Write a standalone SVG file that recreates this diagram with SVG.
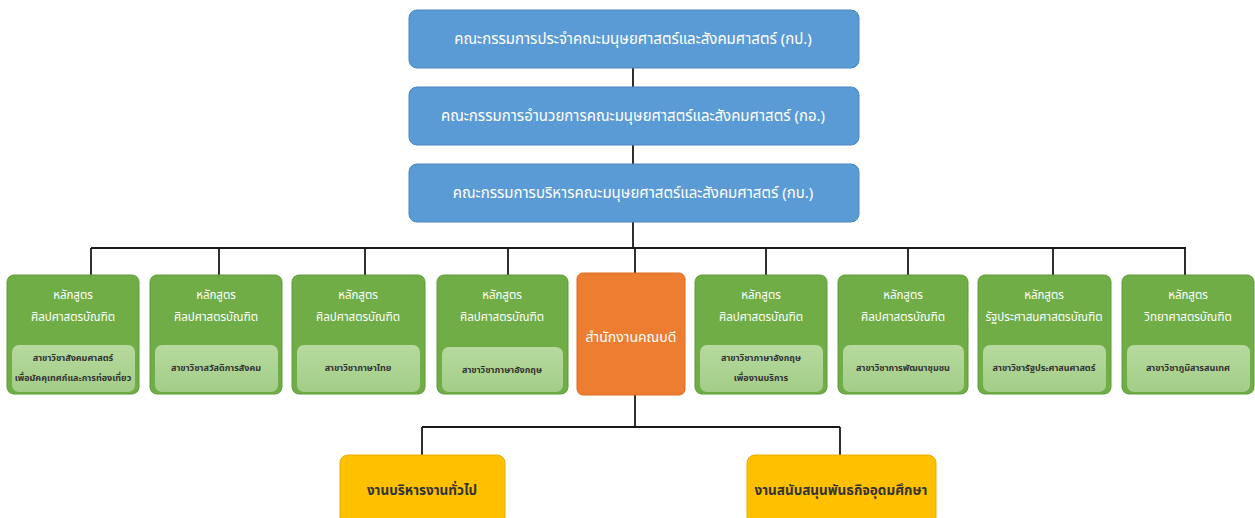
<svg xmlns="http://www.w3.org/2000/svg" width="1255" height="518" viewBox="0 0 1255 518">
<style>
text{font-family:"Noto Sans Thai","Leelawadee UI",Tahoma,"DejaVu Sans","Noto Sans",sans-serif;text-anchor:middle;dominant-baseline:central}
.blue{fill:#5B9BD5;stroke:#4A86BE;stroke-width:1}
.green{fill:#70AD47;stroke:#5E9A3A;stroke-width:1}
.inner{fill:url(#ig)}
.orange{fill:#ED7D31;stroke:#D96C22;stroke-width:1}
.yellow{fill:#FFC000;stroke:#E5AC00;stroke-width:1}
.tw{fill:#fff;font-size:15px}
.tg{fill:#fff;font-size:11.5px}
.ti{fill:#333;font-size:9px;font-weight:bold}
.ty{fill:#333;font-size:13.5px;font-weight:bold}
.conn{stroke:#1a1a1a;stroke-width:1.8;fill:none}
</style>
<defs>
<linearGradient id="ig" x1="0" y1="0" x2="0" y2="1">
<stop offset="0" stop-color="#B7DA9F"/>
<stop offset="1" stop-color="#A3CD87"/>
</linearGradient>
</defs>
<rect width="1255" height="518" fill="#fff"/>
<g id="connectors">
<path class="conn" d="M633 68V87M633 145V164M633 222V248M91 248H1186M91 248V275M219 248V275M365 248V275M508 248V275M635 248V273M766 248V275M908 248V275M1053 248V275M1185 248V275"/>
<path class="conn" d="M635 395V427M422 427H840M422 427V455M840 427V455"/>
</g>
<g id="n-kp"><rect class="blue" x="409" y="10" width="450" height="58" rx="8"/><text class="tw" x="633" y="39">คณะกรรมการประจำคณะมนุษยศาสตร์และสังคมศาสตร์ (กป.)</text></g>
<g id="n-ko"><rect class="blue" x="409" y="87" width="450" height="58" rx="8"/><text class="tw" x="633" y="116">คณะกรรมการอำนวยการคณะมนุษยศาสตร์และสังคมศาสตร์ (กอ.)</text></g>
<g id="n-kb"><rect class="blue" x="409" y="164" width="450" height="58" rx="8"/><text class="tw" x="633" y="193">คณะกรรมการบริหารคณะมนุษยศาสตร์และสังคมศาสตร์ (กบ.)</text></g>

<g id="p1"><rect class="green" x="7" y="275" width="132" height="119" rx="7"/><text class="tg" x="73" y="295">หลักสูตร</text><text class="tg" x="73" y="317">ศิลปศาสตรบัณฑิต</text><rect class="inner" x="12" y="345" width="123" height="47" rx="7"/><text class="ti" x="73" y="358">สาขาวิชาสังคมศาสตร์</text><text class="ti" x="73" y="378">เพื่อมัคคุเทศก์และการท่องเที่ยว</text></g>
<g id="p2"><rect class="green" x="150" y="275" width="132" height="119" rx="7"/><text class="tg" x="216" y="295">หลักสูตร</text><text class="tg" x="216" y="317">ศิลปศาสตรบัณฑิต</text><rect class="inner" x="155" y="345" width="123" height="47" rx="7"/><text class="ti" x="216" y="368">สาขาวิชาสวัสดิการสังคม</text></g>
<g id="p3"><rect class="green" x="292" y="275" width="133" height="119" rx="7"/><text class="tg" x="358" y="295">หลักสูตร</text><text class="tg" x="358" y="317">ศิลปศาสตรบัณฑิต</text><rect class="inner" x="297" y="345" width="123" height="47" rx="7"/><text class="ti" x="358" y="368">สาขาวิชาภาษาไทย</text></g>
<g id="p4"><rect class="green" x="437" y="275" width="131" height="119" rx="7"/><text class="tg" x="502" y="295">หลักสูตร</text><text class="tg" x="502" y="317">ศิลปศาสตรบัณฑิต</text><rect class="inner" x="442" y="347" width="121" height="45" rx="7"/><text class="ti" x="502" y="370">สาขาวิชาภาษาอังกฤษ</text></g>
<g id="office"><rect class="orange" x="577" y="273" width="108" height="122" rx="6"/><text class="tw" x="631" y="337" style="font-size:14px">สำนักงานคณบดี</text></g>
<g id="p6"><rect class="green" x="695" y="275" width="132" height="119" rx="7"/><text class="tg" x="761" y="295">หลักสูตร</text><text class="tg" x="761" y="317">ศิลปศาสตรบัณฑิต</text><rect class="inner" x="700" y="345" width="123" height="47" rx="7"/><text class="ti" x="761" y="358">สาขาวิชาภาษาอังกฤษ</text><text class="ti" x="761" y="378">เพื่องานบริการ</text></g>
<g id="p7"><rect class="green" x="838" y="275" width="130" height="119" rx="7"/><text class="tg" x="903" y="295">หลักสูตร</text><text class="tg" x="903" y="317">ศิลปศาสตรบัณฑิต</text><rect class="inner" x="843" y="345" width="121" height="47" rx="7"/><text class="ti" x="903" y="368">สาขาวิชาการพัฒนาชุมชน</text></g>
<g id="p8"><rect class="green" x="978" y="275" width="133" height="119" rx="7"/><text class="tg" x="1044" y="295">หลักสูตร</text><text class="tg" x="1044" y="317">รัฐประศาสนศาสตรบัณฑิต</text><rect class="inner" x="983" y="345" width="123" height="47" rx="7"/><text class="ti" x="1044" y="368">สาขาวิชารัฐประศาสนศาสตร์</text></g>
<g id="p9"><rect class="green" x="1122" y="275" width="132" height="119" rx="7"/><text class="tg" x="1188" y="295">หลักสูตร</text><text class="tg" x="1188" y="317">วิทยาศาสตรบัณฑิต</text><rect class="inner" x="1127" y="345" width="123" height="47" rx="7"/><text class="ti" x="1188" y="368">สาขาวิชาภูมิสารสนเทศ</text></g>

<g id="y1"><rect class="yellow" x="340" y="455" width="165" height="70" rx="8"/><text class="ty" x="422" y="491">งานบริหารงานทั่วไป</text></g>
<g id="y2"><rect class="yellow" x="747" y="455" width="189" height="70" rx="8"/><text class="ty" x="841" y="491">งานสนับสนุนพันธกิจอุดมศึกษา</text></g>
</svg>
